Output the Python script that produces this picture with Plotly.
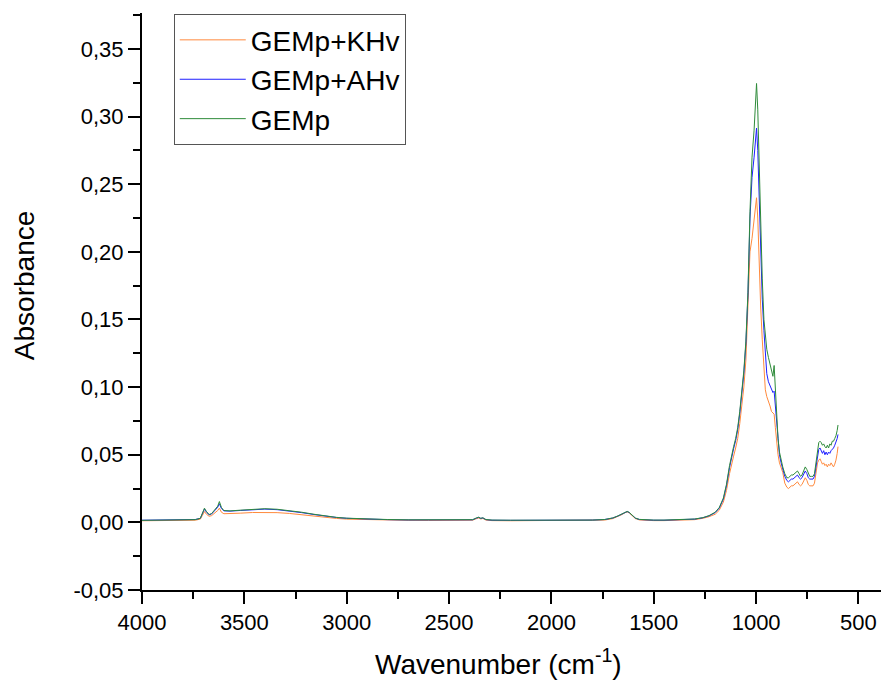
import plotly.graph_objects as go

# FTIR absorbance spectra (wavenumber in cm-1)
wavenumber = [
    4000, 3900, 3800, 3740, 3715, 3700, 3695, 3685, 3672, 3660, 3645, 3630, 3622,
    3612, 3600, 3570, 3520, 3460, 3400, 3340, 3280, 3220, 3160, 3100, 3050, 3000,
    2900, 2800, 2700, 2600, 2500, 2420, 2385, 2365, 2355, 2345, 2335, 2320, 2290,
    2200, 2100, 2000, 1900, 1800, 1740, 1700, 1675, 1655, 1640, 1630, 1620, 1605,
    1590, 1570, 1540, 1500, 1450, 1400, 1350, 1300,
    1260, 1230, 1200, 1180, 1160, 1145, 1130, 1118, 1110, 1100,
    1090, 1080, 1070, 1060, 1050, 1040, 1030, 1020, 1010, 1003,
    998, 992, 985, 978, 970, 962, 955, 948, 940, 932,
    925, 918, 912, 906, 900, 893, 886, 878, 870, 860,
    850, 842, 835, 828, 820, 812, 805, 798, 790, 783,
    776, 768, 760, 752, 745, 738, 730, 722, 715, 708,
    700, 694, 688, 682, 676, 670, 664, 658, 652, 646,
    640, 634, 628, 622, 616, 610, 604, 600,
]

gemp_khv = [
    .0012, .0013, .0014, .0016, .0024, .0065, .0080, .0060, .0045, .0050, .0068, .0088, .0105,
    .0075, .0064, .0064, .0068, .0073, .0075, .0072, .0066, .0056, .0045, .0035, .0029, .0024,
    .0020, .0017, .0015, .0014, .0013, .0013, .0016, .0028, .0032, .0025, .0029, .0017, .0013,
    .0012, .0012, .0012, .0013, .0014, .0017, .0028, .0043, .0058, .0072, .0077, .0070, .0046,
    .0028, .0018, .0014, .0013, .0013, .0014, .0016, .0020,
    .0030, .0042, .0060, .0090, .0150, .0235, .0360, .0450, .0490, .0550,
    .0620, .0730, .0850, .1000, .1200, .1550, .2000, .2100, .2250, .2370,
    .2400, .2250, .1900, .1600, .1350, .1100, .0980, .0930, .0900, .0860,
    .0820, .0810, .0800, .0700, .0600, .0500, .0440, .0400, .0370, .0290,
    .0260, .0250, .0260, .0270, .0270, .0280, .0290, .0300, .0280, .0270,
    .0280, .0310, .0330, .0310, .0280, .0270, .0270, .0270, .0290, .0360,
    .0440, .0460, .0470, .0450, .0430, .0440, .0420, .0430, .0410, .0430,
    .0420, .0440, .0420, .0410, .0430, .0460, .0510, .0560,
]

gemp_ahv = [
    .0016, .0017, .0018, .0021, .0030, .0080, .0098, .0075, .0056, .0062, .0085, .0112, .0138,
    .0102, .0085, .0083, .0088, .0095, .0098, .0094, .0085, .0072, .0058, .0044, .0036, .0030,
    .0024, .0020, .0018, .0017, .0016, .0016, .0019, .0032, .0037, .0029, .0033, .0020, .0016,
    .0015, .0015, .0015, .0016, .0017, .0021, .0032, .0047, .0062, .0076, .0080, .0073, .0049,
    .0031, .0021, .0017, .0016, .0016, .0017, .0019, .0024,
    .0034, .0048, .0072, .0105, .0172, .0270, .0405, .0505, .0545, .0605,
    .0685, .0805, .0935, .1100, .1320, .1680, .2250, .2550, .2700, .2850,
    .2915, .2750, .2400, .2000, .1650, .1420, .1250, .1100, .1040, .1010,
    .0980, .0960, .0970, .0850, .0720, .0580, .0500, .0440, .0400, .0340,
    .0310, .0300, .0310, .0320, .0320, .0330, .0340, .0350, .0330, .0320,
    .0330, .0360, .0380, .0360, .0330, .0320, .0320, .0320, .0340, .0420,
    .0510, .0540, .0550, .0530, .0510, .0530, .0500, .0520, .0500, .0520,
    .0510, .0530, .0540, .0550, .0570, .0590, .0620, .0650,
]

gemp = [
    .0015, .0016, .0017, .0020, .0030, .0085, .0105, .0080, .0058, .0065, .0090, .0120, .0154,
    .0110, .0088, .0085, .0090, .0098, .0101, .0097, .0088, .0075, .0060, .0045, .0037, .0031,
    .0025, .0021, .0019, .0018, .0017, .0017, .0020, .0034, .0038, .0030, .0034, .0021, .0017,
    .0016, .0015, .0015, .0016, .0017, .0021, .0033, .0048, .0063, .0077, .0081, .0074, .0050,
    .0032, .0022, .0018, .0017, .0017, .0018, .0020, .0025,
    .0035, .0050, .0075, .0110, .0180, .0280, .0420, .0520, .0560, .0620,
    .0700, .0820, .0950, .1120, .1340, .1700, .2300, .2700, .2900, .3150,
    .3245, .3050, .2600, .2200, .1800, .1500, .1380, .1280, .1220, .1170,
    .1130, .1080, .1160, .0980, .0800, .0620, .0520, .0450, .0410, .0360,
    .0330, .0330, .0340, .0350, .0350, .0360, .0370, .0380, .0360, .0340,
    .0350, .0380, .0410, .0390, .0360, .0340, .0340, .0340, .0360, .0450,
    .0550, .0590, .0600, .0590, .0570, .0580, .0560, .0550, .0570, .0550,
    .0580, .0570, .0600, .0600, .0620, .0640, .0680, .0720,
]

series_names = ["GEMp+KHv", "GEMp+AHv", "GEMp"]
series_colors = ["#FF8A3D", "#1F1FFF", "#2E8B3A"]

x_tickvals = [4000, 3500, 3000, 2500, 2000, 1500, 1000, 500]
x_ticktext = ["4000", "3500", "3000", "2500", "2000", "1500", "1000", "500"]
y_tickvals = [-0.05, 0.0, 0.05, 0.10, 0.15, 0.20, 0.25, 0.30, 0.35]
y_ticktext = ["-0,05", "0,00", "0,05", "0,10", "0,15", "0,20", "0,25", "0,30", "0,35"]

FONT = "Liberation Sans, Arial, sans-serif"

fig = go.Figure()
for name, color, values in zip(series_names, series_colors, [gemp_khv, gemp_ahv, gemp]):
    fig.add_trace(go.Scatter(
        x=wavenumber, y=values, mode="lines", name=name,
        line=dict(color=color, width=1),
    ))

axis_common = dict(
    showgrid=False, zeroline=False, showline=True, linecolor="black", linewidth=2,
    ticks="outside", ticklen=12, tickwidth=2, tickcolor="black",
    tickfont=dict(family=FONT, size=22, color="black"),
)

fig.update_xaxes(
    range=[4000, 390], tickmode="array", tickvals=x_tickvals, ticktext=x_ticktext,
    minor=dict(ticks="outside", ticklen=7, tickwidth=2, tickcolor="black",
               tick0=0, dtick=250),
    **axis_common,
)
fig.update_yaxes(
    range=[-0.05, 0.3766], tickmode="array", tickvals=y_tickvals, ticktext=y_ticktext,
    minor=dict(ticks="outside", ticklen=7, tickwidth=2, tickcolor="black",
               tick0=0, dtick=0.025),
    **axis_common,
)

fig.update_layout(
    width=881, height=685,
    margin=dict(l=142, r=0, t=13, b=95),
    paper_bgcolor="white", plot_bgcolor="white",
    font=dict(family=FONT, color="black"),
    showlegend=True,
    legend=dict(
        x=0.043, y=0.998, xanchor="left", yanchor="top",
        bordercolor="#555555", borderwidth=1, bgcolor="white",
        font=dict(family=FONT, size=28, color="black"),
        itemwidth=66, tracegroupgap=0,
    ),
    annotations=[
        dict(text="Wavenumber (cm<sup>-1</sup>)", xref="paper", yref="paper",
             x=0.483, y=-0.125, xanchor="center", yanchor="middle",
             showarrow=False, font=dict(family=FONT, size=28, color="black")),
        dict(text="Absorbance", xref="paper", yref="paper",
             x=-0.158, y=0.527, xanchor="center", yanchor="middle", textangle=-90,
             showarrow=False, font=dict(family=FONT, size=28, color="black")),
    ],
)

fig.write_html("out.html")
